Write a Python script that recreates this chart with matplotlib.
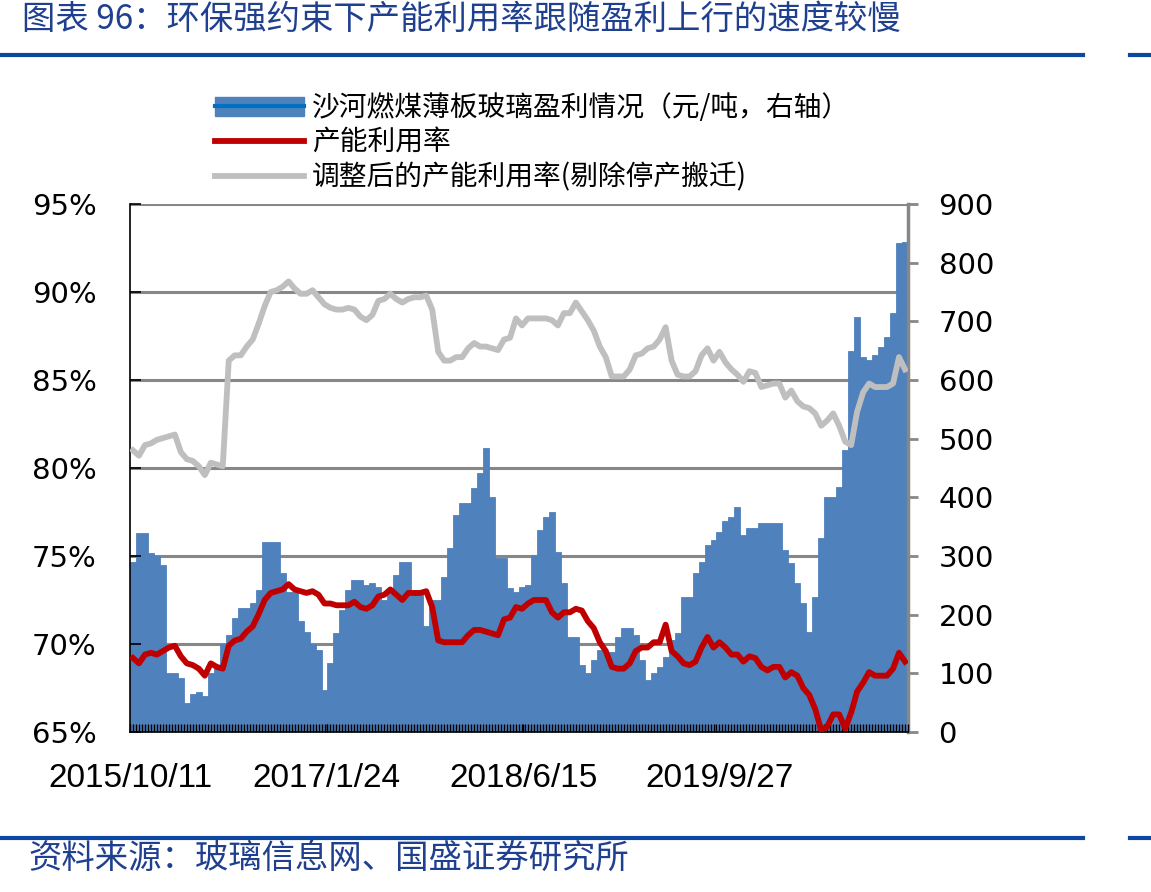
import numpy as np
import matplotlib
matplotlib.use("Agg")
import matplotlib.pyplot as plt
from matplotlib.lines import Line2D
from matplotlib.patches import Patch

plt.rcParams["font.family"] = ["DejaVu Sans"]
CJK = ["Noto Sans CJK SC", "DejaVu Sans"]

# weekly-ish samples
profit = [290, 339, 339, 305, 300, 285, 100, 100, 92, 50,
          65, 68, 62, 100, 115, 150, 165, 194, 211, 211,
          220, 242, 324, 324, 324, 271, 239, 239, 190, 170,
          150, 140, 72, 117, 169, 208, 242, 259, 259, 250,
          254, 247, 225, 237, 268, 290, 290, 240, 240, 180,
          225, 225, 264, 313, 370, 390, 390, 416, 441, 484,
          400, 296, 296, 245, 239, 247, 250, 302, 344, 366,
          375, 307, 254, 162, 162, 114, 100, 123, 140, 136,
          136, 162, 177, 177, 165, 123, 89, 100, 111, 128,
          157, 169, 230, 230, 271, 290, 319, 327, 341, 360,
          366, 383, 336, 348, 348, 356, 356, 356, 356, 310,
          288, 254, 220, 170, 230, 330, 400, 400, 418, 480,
          650, 707, 639, 634, 643, 656, 673, 714, 833, 835]

util = [69.2, 68.9, 69.4, 69.5, 69.4, 69.6, 69.8, 69.9, 69.3, 68.9,
        68.8, 68.6, 68.2, 68.9, 68.7, 68.6, 69.9, 70.2, 70.3, 70.7,
        71.0, 71.7, 72.5, 72.9, 73.0, 73.1, 73.4, 73.1, 73.0, 72.9,
        73.0, 72.8, 72.3, 72.3, 72.2, 72.2, 72.2, 72.4, 72.1, 72.0,
        72.2, 72.7, 72.8, 73.1, 72.8, 72.5, 72.9, 72.9, 72.9, 73.0,
        72.1, 70.2, 70.1, 70.1, 70.1, 70.1, 70.5, 70.8, 70.8, 70.7,
        70.6, 70.5, 71.4, 71.5, 72.1, 72.0, 72.3, 72.5, 72.5, 72.5,
        71.8, 71.5, 71.8, 71.8, 72.0, 71.9, 71.3, 70.9, 70.1, 69.6,
        68.7, 68.6, 68.6, 68.9, 69.6, 69.8, 69.8, 70.1, 70.1, 71.1,
        69.6, 69.3, 68.9, 68.8, 69.0, 69.8, 70.4, 69.8, 70.1, 69.8,
        69.4, 69.4, 69.0, 69.3, 69.2, 68.7, 68.5, 68.7, 68.7, 68.1,
        68.4, 68.2, 67.5, 67.1, 66.3, 65.1, 65.3, 66.0, 66.0, 65.2,
        66.1, 67.3, 67.8, 68.4, 68.2, 68.2, 68.2, 68.6, 69.5, 69.0]

util_adj = [81.0, 80.7, 81.3, 81.4, 81.6, 81.7, 81.8, 81.9, 80.9, 80.5,
            80.4, 80.1, 79.6, 80.3, 80.2, 80.1, 86.1, 86.4, 86.4, 86.9,
            87.3, 88.2, 89.2, 90.0, 90.1, 90.3, 90.6, 90.2, 89.9, 89.9,
            90.1, 89.7, 89.3, 89.1, 89.0, 89.0, 89.1, 89.0, 88.6, 88.4,
            88.7, 89.5, 89.6, 89.9, 89.6, 89.4, 89.6, 89.7, 89.7, 89.8,
            89.0, 86.6, 86.1, 86.1, 86.3, 86.3, 86.8, 87.1, 86.9, 86.9,
            86.8, 86.7, 87.3, 87.4, 88.5, 88.1, 88.5, 88.5, 88.5, 88.5,
            88.4, 88.1, 88.8, 88.8, 89.4, 88.9, 88.4, 87.8, 86.9, 86.3,
            85.2, 85.2, 85.2, 85.6, 86.4, 86.5, 86.8, 86.9, 87.3, 88.0,
            86.1, 85.3, 85.2, 85.2, 85.5, 86.4, 86.8, 86.1, 86.6, 86.0,
            85.6, 85.3, 84.9, 85.5, 85.4, 84.6, 84.7, 84.8, 84.8, 84.0,
            84.4, 83.8, 83.5, 83.4, 83.1, 82.4, 82.7, 83.1, 82.4, 81.5,
            81.3, 83.2, 84.3, 84.8, 84.6, 84.6, 84.6, 84.8, 86.3, 85.6]

date_labels = ["2015/10/11", "2017/1/24", "2018/6/15", "2019/9/27"]
label_idx = [-0.5, 32.4, 65.2, 98.0]

title = "图表 96：环保强约束下产能利用率跟随盈利上行的速度较慢"
source = "资料来源：玻璃信息网、国盛证券研究所"
names = ["沙河燃煤薄板玻璃盈利情况（元/吨，右轴）", "产能利用率", "调整后的产能利用率(剔除停产搬迁)"]

BLUE = "#4F81BD"
RED = "#C00000"
GREY = "#BFBFBF"
GRID = "#878787"
NAVY = "#0D47A1"

W, H = 1151, 892
fig = plt.figure(figsize=(W / 100, H / 100), dpi=100)
ax = fig.add_axes([130 / W, 1 - 732 / H, 778 / W, 528 / H])
ax2 = ax.twinx()

x = np.arange(len(profit))

# right axis: profit bars + grid (grid behind bars)
for v in range(150, 901, 150):
    ax2.axhline(v, color=GRID, lw=2.2, zorder=1)
ax2.bar(x, profit, width=1.0, color=BLUE, edgecolor=BLUE, linewidth=0.6, zorder=2)
ax2.set_ylim(0, 900)
ax2.set_yticks(range(0, 901, 100))
ax2.tick_params(axis="y", direction="out", length=7, width=2, color=GRID,
                labelsize=21, pad=15)
for s in ["left", "top", "bottom"]:
    ax2.spines[s].set_visible(False)
ax2.spines["right"].set_color(GRID)
ax2.spines["right"].set_linewidth(2.5)

# left axis: utilisation lines on top
ax.set_zorder(ax2.get_zorder() + 1)
ax.patch.set_visible(False)
ax.plot(x, util, color=RED, lw=4.2, solid_joinstyle="round", zorder=3)
ax.plot(x, util_adj, color=GREY, lw=4.2, solid_joinstyle="round", zorder=3)
ax.set_ylim(65, 95)
ax.set_yticks(range(65, 96, 5))
ax.set_yticklabels([f"{v}%" for v in range(65, 96, 5)])
ax.tick_params(axis="y", direction="in", length=8, width=1.2, color="black",
               labelsize=21, pad=24)
ax.set_xlim(-0.5, len(profit) - 0.5)
ax.set_xticks(label_idx)
ax.set_xticklabels(date_labels, family=["Liberation Sans", "DejaVu Sans"])
ax.set_xticks(np.arange(-0.5, len(profit), 0.5), minor=True)
ax.tick_params(axis="x", which="both", direction="in", length=6, width=1,
               color="black", labelsize=24, pad=22)
for s in ["top", "right"]:
    ax.spines[s].set_visible(False)
ax.spines["left"].set_linewidth(1.2)
ax.spines["bottom"].set_linewidth(1.2)

# legend
handles = [
    (Patch(facecolor=BLUE, edgecolor=BLUE), Line2D([], [], color="#0070C0", lw=3)),
    Line2D([], [], color=RED, lw=4.2),
    Line2D([], [], color=GREY, lw=4.2),
]
fig.legend(handles, names, loc="upper left", bbox_to_anchor=(215 / W, 1 - 93 / H),
           frameon=False, prop={"family": CJK, "size": 20}, handlelength=3.2,
           handletextpad=0.3, labelspacing=0.17, borderpad=0, borderaxespad=0)

# title, source and the blue rules
fig.text(22 / W, 1 - 19 / H, title, fontsize=24, color="#1F3F8F", family=CJK,
         style="italic", ha="left", va="center")
fig.text(28 / W, 1 - 858 / H, source, fontsize=24, color="#1F3F8F", family=CJK,
         style="italic", ha="left", va="center")
for yy in [55, 838]:
    fig.add_artist(Line2D([0, 1083 / W], [1 - yy / H] * 2, color=NAVY, lw=3,
                          transform=fig.transFigure))
    fig.add_artist(Line2D([1130 / W, 1], [1 - yy / H] * 2, color=NAVY, lw=3,
                          transform=fig.transFigure))

fig.savefig("out.png", dpi=100)
